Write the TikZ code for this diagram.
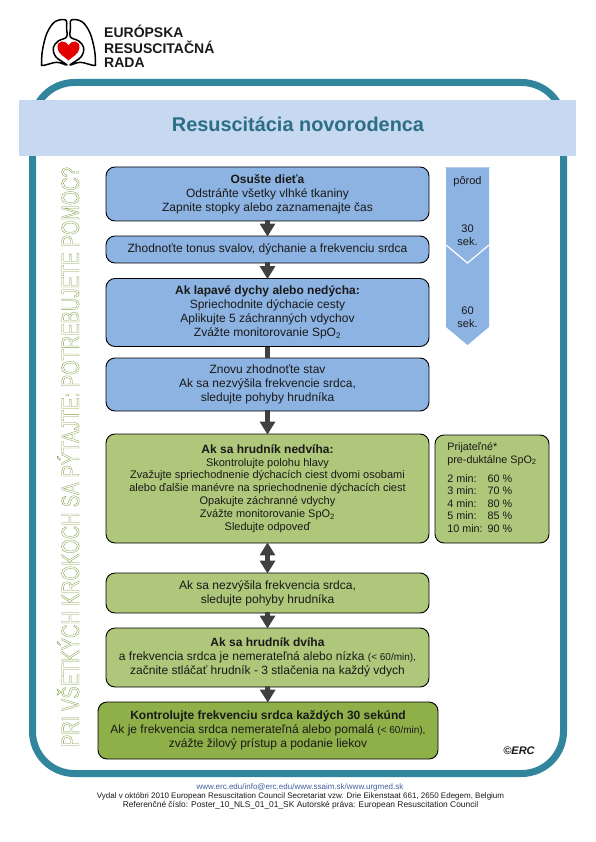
\documentclass[tikz,border=0pt]{standalone}
\usepackage{fontspec}
\usepackage{amsmath}
\usetikzlibrary{arrows.meta}
\setmainfont{Liberation Sans}
\definecolor{framecol}{HTML}{31859C}
\definecolor{bannercol}{HTML}{C6D9F1}
\definecolor{titlecol}{HTML}{2C6E85}
\definecolor{bluecol}{HTML}{8DB3E2}
\definecolor{greencol}{HTML}{AFC77A}
\definecolor{darkcol}{HTML}{8FAF48}
\definecolor{arrowcol}{HTML}{404040}
\definecolor{outlinecol}{HTML}{7F9C42}
\definecolor{linkcol}{HTML}{3F5F9F}
\newcommand{\bodyfont}{\fontsize{12}{14}\selectfont}
\newcommand{\spotwo}{SpO\textsubscript{2}}

\begin{document}
\begin{tikzpicture}[x=1pt, y=-1pt,
	every node/.style={inner sep=0pt, text=black!90},
	bluebox/.style={draw=black, line width=0.9pt, rounded corners=9pt, fill=bluecol, align=center, font=\bodyfont, minimum width=323pt},
	greenbox/.style={bluebox, fill=greencol},
	darkbox/.style={bluebox, fill=darkcol, minimum width=340pt},
	flowarrow/.style={draw=arrowcol, line width=5pt, -{Triangle[length=13pt, width=15pt]}, shorten >=-1pt, shorten <=-1pt},
	bothways/.style={flowarrow, {Triangle[length=13pt, width=15pt]}-{Triangle[length=13pt, width=15pt]}},
	footer/.style={font=\fontsize{8}{9}\selectfont},
	timelabel/.style={font=\fontsize{11}{13}\selectfont, align=center},
	logotext/.style={font=\fontsize{14}{15}\bfseries\selectfont, anchor=west}]
	\useasboundingbox (0,0) rectangle (595,842);
	% outer frame and banner
	\draw[framecol, line width=7pt, rounded corners=42pt] (32.5,82.5) rectangle (563.5,773.5);
	\fill[bannercol] (19,100) rectangle (576,156);
	\node[font=\fontsize{19.9}{24}\bfseries\selectfont, text=titlecol] (title) at (298,124) {Resuscitácia novorodenca};
	% logo
	\begin{scope}[line width=1.5pt, line join=round]
		\draw plot[smooth cycle, tension=0.6] coordinates {(65.7,20) (55,21.7) (47,33) (42.5,50) (41.7,63) (43,65.5) (56.7,62.3) (67,65) (56,57) (53.3,47.7) (58.3,41) (66.5,37) (66.5,28)};
		\draw plot[smooth cycle, tension=0.6] coordinates {(71.3,20) (82,21.7) (90,33) (94.5,50) (95.3,63) (94,65.5) (80.3,62.3) (70,65) (81,57) (83.7,47.7) (78.7,41) (70.5,37) (70.5,28)};
		\fill[red!90!black] (68.5,45.5) .. controls (65,39.5) and (57,40) .. (57.5,48) .. controls (58,54) and (65,57) .. (68.5,60.5) .. controls (72,57) and (79,54) .. (79.5,48) .. controls (80,40) and (72,39.5) .. cycle;
	\end{scope}
	\node[logotext] (erc1) at (104,31) {EURÓPSKA};
	\node[logotext] (erc2) at (104,47) {RESUSCITAČNÁ};
	\node[logotext] (erc3) at (104,63) {RADA};
	% side text
	\node[rotate=90, anchor=base, text=outlinecol, font=\fontsize{25}{30}\selectfont] (ask) at (79,457) {\resizebox{580pt}{\height}{\special{pdf:code 1 Tr 0.4 w}PRI VŠETKÝCH KROKOCH SA PÝTAJTE: POTREBUJETE POMOC?\special{pdf:code 0 Tr}}};
	% time arrow
	\fill[bluecol] (446,168) -- (489,168) -- (489,327) -- (467.5,345) -- (446,327) -- cycle;
	\draw[bannercol!70!bluecol] (445,167) -- (490,167);
	\draw[white, line width=1.2pt] (446,245) -- (467.5,263) -- (489,245);
	\node[timelabel] (birth) at (467.5,182) {pôrod};
	\node[timelabel] (sec30) at (467.5,235) {30\\sek.};
	\node[timelabel] (sec60) at (467.5,317) {60\\sek.};
	% blue steps
	\node[bluebox, minimum height=54pt] (dry) at (267.5,194) {\textbf{Osušte dieťa}\\Odstráňte všetky vlhké tkaniny\\Zapnite stopky alebo zaznamenajte čas};
	\node[bluebox, minimum height=27pt] (tonus) at (267.5,249.5) {Zhodnoťte tonus svalov, dýchanie a frekvenciu srdca};
	\node[bluebox, minimum height=68pt] (gasp) at (267.5,312.5) {\textbf{Ak lapavé dychy alebo nedýcha:}\\Spriechodnite dýchacie cesty\\Aplikujte 5 záchranných vdychov\\Zvážte monitorovanie \spotwo};
	\node[bluebox, minimum height=53pt] (again) at (267.5,384.5) {Znovu zhodnoťte stav\\Ak sa nezvýšila frekvencie srdca,\\sledujte pohyby hrudníka};
	% green steps
	\node[greenbox, minimum height=109pt, font=\fontsize{11}{12.8}\selectfont] (nochest) at (267.5,488.5) {{\fontsize{12}{12.8}\selectfont\textbf{Ak sa hrudník nedvíha:}}\\Skontrolujte polohu hlavy\\Zvažujte spriechodnenie dýchacích ciest dvomi osobami\\alebo ďalšie manévre na spriechodnenie dýchacích ciest\\Opakujte záchranné vdychy\\Zvážte monitorovanie \spotwo\\Sledujte odpoveď};
	\node[greenbox, minimum height=40pt] (norise) at (267.5,593) {Ak sa nezvýšila frekvencia srdca,\\sledujte pohyby hrudníka};
	\node[greenbox, minimum height=59pt] (chest) at (267.5,657.5) {\textbf{Ak sa hrudník dvíha}\\a frekvencia srdca je nemerateľná alebo nízka {\fontsize{10}{12}\selectfont(< 60/min),}\\začnite stláčať hrudník - 3 stlačenia na každý vdych};
	\node[darkbox, minimum height=57pt] (check) at (268,730.5) {\textbf{Kontrolujte frekvenciu srdca každých 30 sekúnd}\\Ak je frekvencia srdca nemerateľná alebo pomalá {\fontsize{10}{12}\selectfont(< 60/min),}\\zvážte žilový prístup a podanie liekov};
	% saturation table
	\node[greenbox, minimum width=114pt, minimum height=108pt, align=left, font=\fontsize{10.8}{12.5}\selectfont] (spo) at (492,489) {%
		\begin{tabular}{@{}l@{\hspace{5pt}}l@{}}
			\multicolumn{2}{@{}l@{}}{Prijateľné*}\\
			\multicolumn{2}{@{}l@{}}{pre-duktálne \spotwo}\\[6.5pt]
			2 min: & 60 \%\\
			3 min: & 70 \%\\
			4 min: & 80 \%\\
			5 min: & 85 \%\\
			10 min: & 90 \%
		\end{tabular}};
	% connectors
	\draw[flowarrow] (dry) -- (tonus);
	\draw[flowarrow] (tonus) -- (gasp);
	\draw[draw=arrowcol, line width=5pt] (gasp) -- (again);
	\draw[flowarrow] (again) -- (nochest);
	\draw[bothways] (nochest) -- (norise);
	\draw[flowarrow] (norise) -- (chest);
	\draw[flowarrow] (chest) -- (check);
	% footer
	\node[font=\fontsize{11}{12}\bfseries\itshape\selectfont] (mark) at (519,751) {©ERC};
	\node[footer, text=linkcol] (links) at (300,787) {www.erc.edu/info@erc.edu/www.ssaim.sk/www.urgmed.sk};
	\node[footer] (issued) at (300.5,796) {Vydal v októbri 2010 European Resuscitation Council Secretariat vzw. Drie Eikenstaat 661, 2650 Edegem, Belgium};
	\node[footer, font=\fontsize{8.4}{9}\selectfont] (ref) at (300.5,805) {Referenčné číslo: Poster\_10\_NLS\_01\_01\_SK Autorské práva: European Resuscitation Council};
\end{tikzpicture}
\end{document}
